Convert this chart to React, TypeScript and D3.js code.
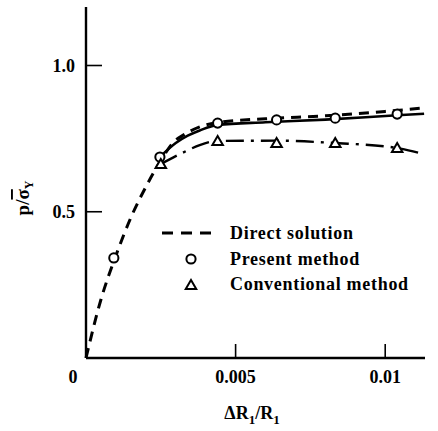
import React from "react";
import * as d3 from "d3";

// values (strain ΔR1/R1 vs p/σY)
const directX = [0, 0.0005, 0.001, 0.0015, 0.002, 0.0025, 0.0029, 0.0033, 0.0038, 0.0044, 0.006, 0.008, 0.01, 0.0113];
const directY = [0, 0.2, 0.35, 0.48, 0.585, 0.675, 0.735, 0.765, 0.79, 0.805, 0.818, 0.828, 0.843, 0.855];

const solidX = [0.0025, 0.003, 0.0034, 0.0038, 0.0044, 0.006, 0.008, 0.0104, 0.0113];
const solidY = [0.69, 0.735, 0.76, 0.778, 0.797, 0.806, 0.815, 0.83, 0.835];

const convLineX = [0.0025, 0.003, 0.0034, 0.0038, 0.0044, 0.0064, 0.0083, 0.0104, 0.0113];
const convLineY = [0.663, 0.69, 0.71, 0.728, 0.742, 0.743, 0.735, 0.718, 0.697];

const presentX = [0.00093, 0.00247, 0.0044, 0.00637, 0.00833, 0.0104];
const presentY = [0.342, 0.687, 0.803, 0.814, 0.82, 0.834];

const convX = [0.0025, 0.0044, 0.00637, 0.00833, 0.0104];
const convY = [0.663, 0.742, 0.735, 0.735, 0.718];

const xTicks = [0, 0.005, 0.01];
const xTickLabels = ["0", "0.005", "0.01"];
const yTicks = [0.5, 1.0];
const yTickLabels = ["0.5", "1.0"];

const legendLabels = ["Direct solution", "Present method", "Conventional method"];

const FONT = "'Liberation Serif', 'Times New Roman', serif";

export default function App() {
  const W = 438;
  const H = 431;
  const x = d3.scaleLinear().domain([0, 0.01133]).range([86, 425]);
  const y = d3.scaleLinear().domain([0, 1.2]).range([358, 7]);

  const line = d3
    .line<[number, number]>()
    .x((d) => x(d[0]))
    .y((d) => y(d[1]))
    .curve(d3.curveMonotoneX);

  const pts = (xs: number[], ys: number[]) => xs.map((v, i) => [v, ys[i]] as [number, number]);

  const tri = d3.symbol().type(d3.symbolTriangle).size(48)();

  const textStyle = {fontFamily: FONT, fontWeight: "bold", fontSize: 18, fill: "#000"};

  return (
    <svg width={W} height={H} style={{position: "absolute", left: 0, top: 0, background: "#fff"}}>
      {/* axes */}
      <line x1={x(0)} x2={x(0)} y1={y(0)} y2={y(1.2)} stroke="#000" strokeWidth={2.4} />
      <line x1={x(0)} x2={x(0.01133)} y1={y(0)} y2={y(0)} stroke="#000" strokeWidth={2.4} />
      {yTicks.map((t, i) => (
        <g key={"yt" + i}>
          <line x1={x(0)} x2={x(0) + 16} y1={y(t)} y2={y(t)} stroke="#000" strokeWidth={1.6} />
          <text x={x(0) - 11} y={y(t) + 6} textAnchor="end" style={textStyle}>
            {yTickLabels[i]}
          </text>
        </g>
      ))}
      {xTicks.map((t, i) => (
        <g key={"xt" + i}>
          {t > 0 && <line x1={x(t)} x2={x(t)} y1={y(0)} y2={y(0) - 14} stroke="#000" strokeWidth={1.6} />}
          <text x={t === 0 ? x(t) - 13 : x(t)} y={y(0) + 25} textAnchor="middle" style={textStyle}>
            {xTickLabels[i]}
          </text>
        </g>
      ))}

      {/* axis titles */}
      <text x={252} y={419} textAnchor="middle" style={textStyle}>
        ΔR<tspan fontSize={13} dy={5}>1</tspan>
        <tspan dy={-5}>/R</tspan>
        <tspan fontSize={13} dy={5}>1</tspan>
      </text>
      <text transform="translate(29,198) rotate(-90)" textAnchor="middle" style={{...textStyle, fontSize: 19}}>
        p/<tspan style={{textDecoration: "overline"}}>σ</tspan>
        <tspan fontSize={12} dy={4}>Y</tspan>
      </text>

      {/* curves */}
      <path d={line(pts(directX, directY)) || ""} fill="none" stroke="#000" strokeWidth={3} strokeDasharray="10,7" />
      <path d={line(pts(solidX, solidY)) || ""} fill="none" stroke="#000" strokeWidth={2.6} />
      <path d={line(pts(convLineX, convLineY)) || ""} fill="none" stroke="#000" strokeWidth={2.4} strokeDasharray="18,7,3,7" />

      {/* markers */}
      {presentX.map((v, i) => (
        <circle key={"p" + i} cx={x(v)} cy={y(presentY[i])} r={4.6} fill="#fff" stroke="#000" strokeWidth={2} />
      ))}
      {convX.map((v, i) => (
        <path key={"c" + i} d={tri || ""} transform={`translate(${x(v)},${y(convY[i]) + 1})`} fill="#fff" stroke="#000" strokeWidth={2} />
      ))}

      {/* legend */}
      <line x1={162} x2={216} y1={233} y2={233} stroke="#000" strokeWidth={3} strokeDasharray="11,8" />
      <circle cx={191} cy={259} r={4.6} fill="#fff" stroke="#000" strokeWidth={2} />
      <path d={tri || ""} transform="translate(191,286)" fill="#fff" stroke="#000" strokeWidth={2} />
      {legendLabels.map((s, i) => (
        <text key={"l" + i} x={230} y={239 + i * 25.5} style={{...textStyle, letterSpacing: 0.7}}>
          {s}
        </text>
      ))}
    </svg>
  );
}
